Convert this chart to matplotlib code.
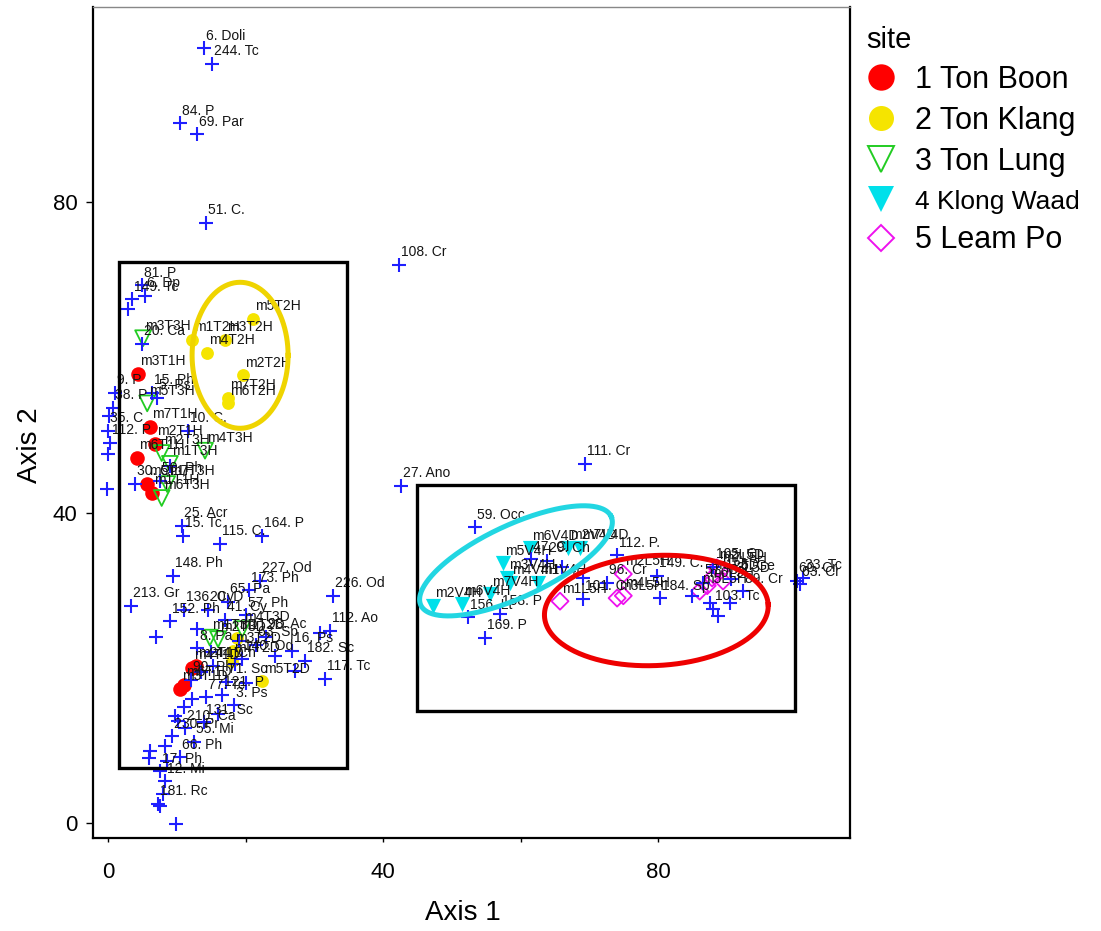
import numpy as np
import matplotlib
matplotlib.use('Agg')
import matplotlib.pyplot as plt
from matplotlib.lines import Line2D
from matplotlib.patches import Rectangle

plt.rcParams['font.family'] = ['Liberation Sans', 'DejaVu Sans']

# ---------------- species scores (blue +) ----------------
sp_x = [14.0, 15.1, 10.5, 12.9, 14.2, 42.3, 69.3, 42.6,
        4.9, 3.5, 2.9, 5.4, 4.9, 1.0, 6.4, 7.1, 0.7, 0.0, 0.3, 0.0, 3.9, -0.1, 11.6, 7.6, 0.2, 9.0,
        10.8, 10.9, 16.3, 22.4, 9.4, 3.3, 7.0, 22.1, 32.7, 20.5, 32.3, 30.8, 26.7, 28.6, 27.2, 31.5,
        24.3, 9.0, 11.0, 14.5, 17.5, 13.0, 19.0, 15.0, 13.5, 20.0, 11.0, 9.7, 10.2, 9.3, 8.3, 6.1,
        6.0, 8.6, 7.6, 8.3, 8.0, 7.3, 7.6, 9.9, 12.2, 16.0, 18.5,
        13.0, 15.2, 17.2, 12.0, 14.2, 16.5, 18.3, 11.2, 12.5, 19.5, 21.5, 17.0, 20.0, 23.0, 14.0, 10.5,
        53.3, 54.8, 52.3, 57.0, 69.0, 80.2, 84.9, 87.5, 87.9, 88.7, 90.4, 100.1, 100.6, 79.8, 74.0,
        69.0, 63.8, 72.5, 92.3, 88.0, 61.5, 66.0, 86.5, 90.5, 101.0]
sp_y = [99.9, 97.9, 90.2, 88.8, 77.4, 72.0, 46.3, 43.5,
        69.3, 67.5, 66.3, 68.0, 61.8, 55.5, 55.5, 54.8, 53.5, 50.6, 49.0, 47.6, 43.7, 43.1, 50.6, 44.1, 52.5, 46.0,
        38.3, 37.0, 36.0, 37.0, 31.9, 28.0, 24.0, 31.2, 29.3, 30.0, 24.8, 24.5, 22.2, 20.9, 19.6, 18.6,
        21.5, 26.0, 27.5, 27.5, 28.5, 25.0, 23.5, 22.0, 19.5, 18.0, 15.0, 13.8, 13.2, 11.2, 9.9, 9.3,
        8.4, 8.0, 6.7, 5.4, 3.7, 2.5, 2.2, -0.1, 16.0, 14.0, 20.5,
        22.5, 20.3, 18.2, 18.5, 16.2, 16.5, 15.2, 12.2, 10.5, 21.2, 23.0, 26.2, 26.8, 24.0, 13.0, 8.5,
        38.1, 23.9, 26.5, 27.0, 28.9, 29.0, 29.3, 28.4, 27.6, 26.7, 28.4, 31.2, 30.8, 31.9, 34.5,
        31.6, 33.8, 31.0, 29.9, 33.0, 34.0, 33.0, 31.0, 31.5, 31.6]
sp_lab = ["6. Doli", "244. Tc", "84. P", "69. Par", "51. C.", "108. Cr", "111. Cr", "27. Ano",
          "81. P", "149. Tc", "", "6. Dp", "20. Ca", "9. P", "15. Ph", "5. Ps", "38. P", "35. C", "112. P", "", "30. C", "", "10. C.", "50. Ph", "", "",
          "25. Acr", "15. Tc", "115. C.", "164. P", "148. Ph", "213. Gr", "", "227. Od", "226. Od", "173. Ph", "112. Ao", "", "16. Ps", "182. Sc", "", "117. Tc",
          "", "152. Ph", "136. Cy", "20. D", "65. Pa", "", "", "", "", "", "", "", "", "230. Pr", "", "",
          "", "", "17. Ph", "12. Mi", "", "181. Rc", "", "", "", "", "",
          "8. Pa", "44. Ch", "71. Sc", "90. Ph", "77. Tc", "121. P", "3. Ps", "210. Ca", "55. Mi", "140. Od", "63. Sp", "41. Cy", "57. Ph", "98. Ac", "131. Sc", "66. Ph",
          "59. Occ", "169. P", "156. Lt", "158. P", "101. C", "184. Sp", "", "", "103. Tc", "", "", "60. Cr", "63. Cr", "149. C.", "112. P.",
          "", "29. Ch", "96. Cr", "89. Cr", "105. Cr", "47. Cl", "", "57. Ci", "26. Ge", "33. Tc"]

# ---------------- site scores ----------------
s1_x = [4.4, 6.1, 6.8, 4.2, 5.7, 6.4, 12.2, 10.5, 12.8, 11.0]
s1_y = [57.9, 51.1, 48.9, 47.1, 43.7, 42.6, 20.0, 17.3, 20.3, 17.8]
s1_lab = ["m3T1H", "m7T1H", "m2T1H", "m6T1H", "m5T1H", "m1T1H", "m4T1D", "m3T1D", "m2T1D", "m6T1D"]

s2_x = [21.1, 12.2, 14.4, 17.0, 19.6, 17.4, 17.4, 18.8, 18.2, 18.0, 22.4]
s2_y = [65.0, 62.3, 60.6, 62.3, 57.7, 54.8, 54.1, 23.9, 22.2, 20.9, 18.3]
s2_lab = ["m5T2H", "m1T2H", "m4T2H", "m3T2H", "m2T2H", "m7T2H", "m6T2H", "m1T2D", "m3T2D", "m7T2D", "m5T2D"]

s3_x = [5.1, 5.7, 7.8, 9.0, 14.1, 8.6, 7.8, 14.8, 16.0, 19.5]
s3_y = [62.5, 54.1, 47.7, 46.3, 48.0, 43.7, 41.9, 23.9, 23.7, 25.0]
s3_lab = ["m3T3H", "m5T3H", "m2T3H", "m1T3H", "m4T3H", "m7T3H", "m6T3H", "m1T3D", "m2T3D", "m4T3D"]

s4_x = [47.2, 51.5, 55.5, 57.4, 58.0, 58.4, 61.3, 62.5, 66.9, 68.6]
s4_y = [28.0, 28.3, 29.5, 33.5, 31.6, 31.0, 35.4, 31.0, 35.5, 35.5]
s4_lab = ["m2V4H", "m6V4H", "m7V4H", "m5V4H", "m3V4H", "m4V4H", "m6V4D", "m1V4H", "m2V4D", "m7V4D"]

s5_x = [65.7, 74.0, 74.9, 74.9, 86.0, 87.1, 89.0, 87.8, 89.4, 88.5]
s5_y = [28.6, 29.0, 29.3, 32.1, 29.9, 30.6, 32.5, 31.6, 31.2, 32.9]
s5_lab = ["m1L5H", "m3L5H", "m4L5H", "m2L5H", "m5L5H", "m6L5H", "m7L5H", "m1L5D", "m3L5D", "m2L5D"]

site_names = ["1 Ton Boon", "2 Ton Klang", "3 Ton Lung", "4 Klong Waad", "5 Leam Po"]

# highlight boxes (x0, y0, x1, y1) and ellipses (cx, cy, half-width px, half-height px, angle)
box_left = (1.6, 7.1, 34.7, 72.3)
box_right = (44.9, 14.5, 99.9, 43.6)
ell_yellow = (19.2, 60.3, 48, 73, 0)
ell_cyan = (59.3, 33.8, 105, 36, 25)
ell_red = (79.7, 27.4, 112, 55, 3)

W, H = 1101, 931
fig = plt.figure(figsize=(W / 100, H / 100), dpi=100)
ax = fig.add_axes([93 / W, 1 - 838 / H, (850 - 93) / W, (838 - 7) / H])
xmin, xmax, ymin, ymax = -2.18, 107.85, -1.93, 105.2
ax.set_xlim(xmin, xmax)
ax.set_ylim(ymin, ymax)

# sites
ax.scatter(s1_x, s1_y, s=110, c='#ff0000', marker='o', linewidths=0, zorder=2)
ax.scatter(s2_x, s2_y, s=85, c='#f5e400', marker='o', linewidths=0, zorder=2)
ax.scatter(s3_x, s3_y, s=130, facecolors='none', edgecolors='#22cc22', marker='v', linewidths=1.3, zorder=2)
ax.scatter(s4_x, s4_y, s=120, c='#00e0ea', marker='v', linewidths=0, zorder=2)
ax.scatter(s5_x, s5_y, s=75, facecolors='none', edgecolors='#ee11ee', marker='D', linewidths=1.3, zorder=2)

# species
ax.scatter(sp_x, sp_y, s=110, c='#1f1fff', marker='+', linewidths=1.5, zorder=3)

lab_kw = dict(textcoords='offset points', xytext=(1.5, 4), ha='left', va='bottom',
              fontsize=10, color='#151515', zorder=4)
for xs, ys, ls in [(sp_x, sp_y, sp_lab), (s1_x, s1_y, s1_lab), (s2_x, s2_y, s2_lab),
                   (s3_x, s3_y, s3_lab), (s4_x, s4_y, s4_lab), (s5_x, s5_y, s5_lab)]:
    for x, y, l in zip(xs, ys, ls):
        if l:
            ax.annotate(l, (x, y), **lab_kw)

# boxes
for (x0, y0, x1, y1) in [box_left, box_right]:
    ax.add_patch(Rectangle((x0, y0), x1 - x0, y1 - y0, fill=False, ec='black', lw=2.4, zorder=5))

# ellipses (sizes in pixels converted via axis scale)
pos = ax.get_position()
sx = pos.width * W / (xmax - xmin)
sy = pos.height * H / (ymax - ymin)
t = np.linspace(0, 2 * np.pi, 300)
for (cx, cy, a, b, ang), col in [(ell_yellow, '#efd400'), (ell_cyan, '#22d6e2'), (ell_red, '#ee0000')]:
    th = np.deg2rad(ang)
    u = a * np.cos(t)
    v = b * np.sin(t)
    ax.plot(cx + (u * np.cos(th) - v * np.sin(th)) / sx,
            cy + (u * np.sin(th) + v * np.cos(th)) / sy, color=col, lw=3.6, zorder=6)

# axes styling
for side in ['left', 'right', 'bottom']:
    ax.spines[side].set_color('black')
    ax.spines[side].set_linewidth(1.6)
ax.spines['top'].set_color('#888888')
ax.spines['top'].set_linewidth(1.0)
ax.set_xticks([0, 40, 80])
ax.set_xticks([20, 60], minor=True)
ax.set_yticks([0, 40, 80])
ax.tick_params(axis='x', length=3, width=1, pad=14, labelsize=16)
ax.tick_params(axis='x', which='minor', length=3, width=1)
ax.tick_params(axis='y', length=5, width=1, pad=6, labelsize=16)

fig.text(463 / W, 1 - 913 / H, 'Axis 1', ha='center', va='center', fontsize=20)
fig.text(30 / W, 1 - 445 / H, 'Axis 2', ha='center', va='center', fontsize=20, rotation=90)

# legend
handles = [
    Line2D([], [], ls='none', marker='o', markersize=19, markerfacecolor='#ff0000', markeredgewidth=0),
    Line2D([], [], ls='none', marker='o', markersize=18, markerfacecolor='#f5e400', markeredgewidth=0),
    Line2D([], [], ls='none', marker='v', markersize=19, markerfacecolor='none', markeredgecolor='#22cc22', markeredgewidth=1.4),
    Line2D([], [], ls='none', marker='v', markersize=19, markerfacecolor='#00e0ea', markeredgewidth=0),
    Line2D([], [], ls='none', marker='D', markersize=13, markerfacecolor='none', markeredgecolor='#ee11ee', markeredgewidth=1.4),
]
leg = fig.legend(handles, site_names, loc='upper left', bbox_to_anchor=(866 / W, 1 - 26 / H),
                 frameon=False, fontsize=22, title='site', title_fontsize=21, alignment='left',
                 handlelength=1.0, handletextpad=0.6, labelspacing=0.36, borderpad=0, borderaxespad=0)
leg.get_texts()[3].set_fontsize(19)

fig.savefig('out.png', dpi=100)
